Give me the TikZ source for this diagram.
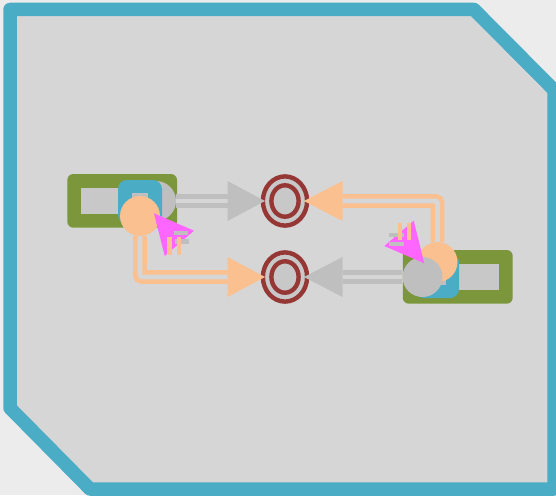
\documentclass[tikz,border=0pt]{standalone}
\definecolor{pagebg}{HTML}{ECECEC}
\definecolor{panel}{HTML}{D6D6D6}
\definecolor{frameblue}{HTML}{4BACC6}
\definecolor{oliveg}{HTML}{7C963C}
\definecolor{peach}{HTML}{FAC090}
\definecolor{greyc}{HTML}{BFBFBF}
\definecolor{greyi}{HTML}{C8C8C8}
\definecolor{ringred}{HTML}{953735}
\definecolor{pinky}{HTML}{FF66FF}
\tikzset{
  x=1pt,y=-1pt,
  frame/.style={draw=frameblue,line width=13.5pt,fill=panel,line join=round},
  portbox/.style={fill=oliveg,rounded corners=6pt},
  innerbox/.style={fill=greyi},
  bluebox/.style={fill=frameblue,rounded corners=9pt},
  tabbar/.style={fill=greyc},
  ball/.style={circle,inner sep=0pt,minimum size=40pt,fill=#1},
  ring/.style={draw=ringred,line width=4.4pt,fill=greyi},
  dbl/.style={draw=#1,line width=4.5pt,double=panel,double distance=4.7pt,rounded corners=2pt},
  head/.style={fill=#1},
  pinktri/.style={fill=pinky},
  greybar/.style={fill=greyc},
  peachbar/.style={fill=peach},
}
\begin{document}
\begin{tikzpicture}
\useasboundingbox (0,0) rectangle (556,495);
\fill[pagebg] (0,0) rectangle (556,495);
\begin{scope}
\clip (0,0) rectangle (556,495);
\draw[frame] (10,9.5) -- (474,9.5) -- (554,90) -- (554,489) -- (90,489) -- (10,408) -- cycle;
\end{scope}

% named anchors for the connector ends
\coordinate (baseA) at (227.5,201);
\coordinate (baseB) at (342.5,201);
\coordinate (baseC) at (227.5,277);
\coordinate (baseD) at (342.5,277);

% left port
\fill[portbox] (67.3,174) rectangle (177,227.7);
\fill[innerbox] (80.7,187.7) rectangle (125,214);
\node[ball=greyc] (greyL) at (156,201) {};
\fill[bluebox] (118,180) rectangle (162,224);
\fill[tabbar] (131.7,193) rectangle (148,200);

% right port
\fill[portbox] (402.8,250) rectangle (512.7,303.7);
\fill[innerbox] (452,263.5) rectangle (499,290);
\fill[bluebox] (415,254) rectangle (459,298);
\fill[tabbar] (429,278) rectangle (445.5,285);

% rings
\foreach \n/\y in {top/201,bot/277}{
  \draw[ring] (285,\y) ellipse [x radius=22.1,y radius=24.6];
  \draw[ring] (285,\y) ellipse [x radius=13.6,y radius=15.7];
}

% connectors
\node[ball=peach] (peachR) at (437.5,262) {};
\node[ball=greyc] (greyR) at (422.5,277) {};
\node[ball=peach] (peachL) at (140,216) {};
\draw[dbl=greyc] (greyL.east) -- (baseA);
\draw[dbl=greyc] (greyR.west) -- (baseD);
\draw[dbl=peach] (peachL.south) |- (baseC);
\draw[dbl=peach] (peachR.north) |- (baseB);
\path[head=greyc] (baseA |- 0,181) -- (265,201) -- (baseA |- 0,221) -- cycle;
\path[head=peach] (baseB |- 0,181) -- (304,201) -- (baseB |- 0,221) -- cycle;
\path[head=peach] (baseC |- 0,257) -- (265,277) -- (baseC |- 0,297) -- cycle;
\path[head=greyc] (baseD |- 0,257) -- (304,277) -- (baseD |- 0,297) -- cycle;

% left cursor
\fill[pinktri] (154,213.3) -- (194,230.7) -- (164.7,256) -- cycle;
\fill[greybar] (174,230.7) rectangle (188.3,235);
\fill[greybar] (175,239.3) rectangle (189.3,244);
\fill[peachbar] (167.3,237.3) rectangle (171.7,255);
\fill[peachbar] (176.7,237.3) rectangle (180.7,254.5);

% right cursor
\fill[pinktri] (424.3,263.3) -- (384.3,246) -- (413.7,220.7) -- cycle;
\fill[greybar] (389,232.7) rectangle (404.3,237.3);
\fill[greybar] (389,241.7) rectangle (404.3,246);
\fill[peachbar] (397.7,222.7) rectangle (402,240);
\fill[peachbar] (406.7,222.7) rectangle (411,240);
\end{tikzpicture}
\end{document}
